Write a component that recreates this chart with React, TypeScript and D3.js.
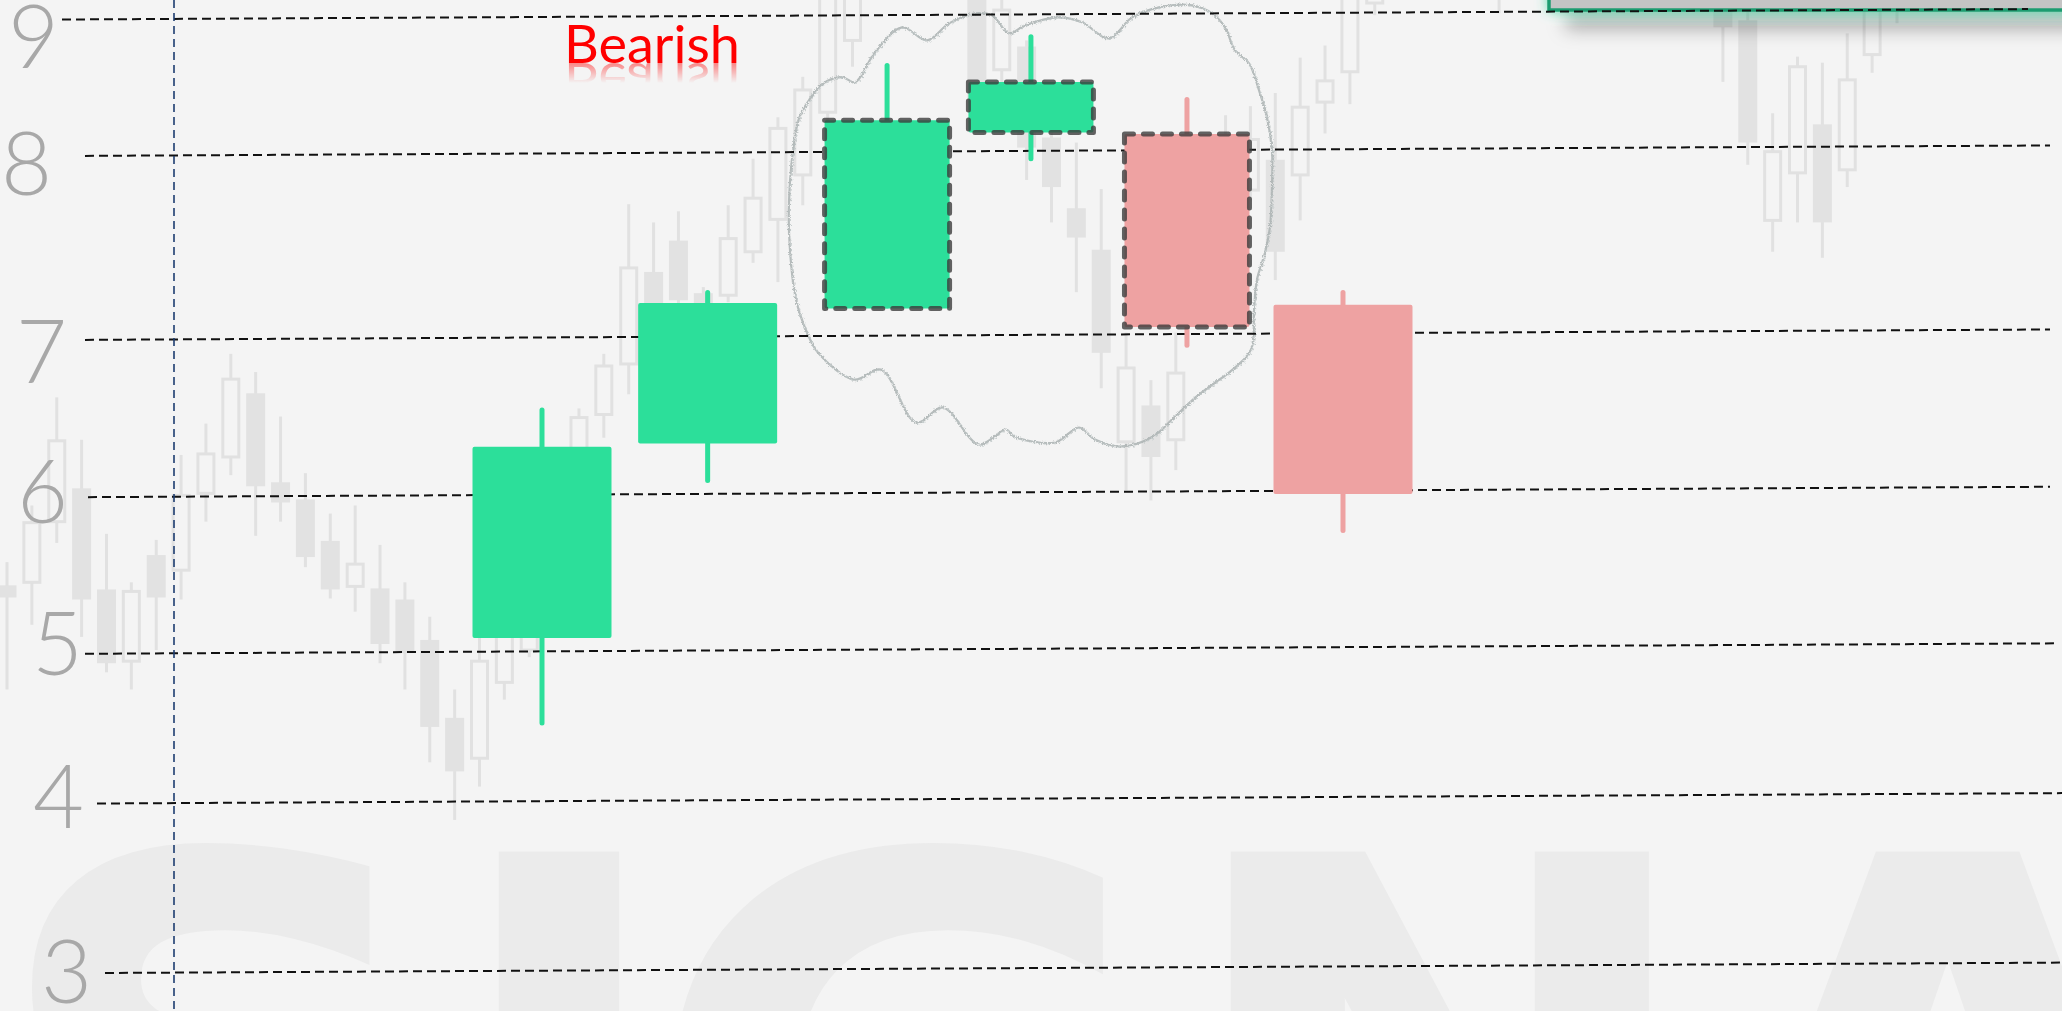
import React from 'react';
import * as d3 from 'd3';

const W = 2062;
const H = 1011;

// ---- main (foreground) candles ----
const slots = [0, 1.034, 2.154, 3.052, 4.026, 5];
const opens = [5.1, 6.34, 7.17, 8.17, 8.16, 7.19];
const closes = [6.32, 7.2, 8.26, 8.54, 7.07, 6.02];
const highs = [6.57, 7.27, 8.68, 8.89, 8.43, 7.27];
const lows = [4.52, 6.09, 7.17, 7.97, 6.95, 5.77];
const highlighted = [false, false, true, true, true, false];

// ---- price axis ----
const priceTicks = [3, 4, 5, 6, 7, 8, 9];
const tickLabels = ['3', '4', '5', '6', '7', '8', '9'];

// ---- faint background candles (index, open, close, high, low) ----
const bgIndex = [0,1,2,3,4,5,6,7,8,9,10,11,12,13,14,15,16,17,18,19,20,21,23,24,25,26,27,28,29,30,31,32,33,34,39,40,41,42,43,44,45,46,47,49,50,51,52,53,54,55,60,69,70,71,72,73,74,75,76];
const bgOpen = [42.1,42.4,48.4,51.7,41.7,34.6,45.1,43.6,51.2,54.8,61.1,52.3,50.6,46.5,42.0,41.8,40.7,36.7,29.0,25.0,32.5,35.7,54.5,59.0,64.0,73.1,76.2,71.0,70.8,75.1,78.3,82.7,88.9,96.0,102,93.1,95.4,86.4,79.4,75.3,56.3,59.9,56.5,85.2,81.2,84.2,82.7,89.9,92.9,99.7,106,100.5,98,78.2,82.9,87.7,83.2,94.6,104];
const bgClose = [40.9,48.3,56.4,40.7,34.4,41.5,40.9,51.0,55.1,62.5,51.9,50.3,44.9,41.7,44.2,36.3,35.4,28.1,23.7,34.6,38.7,40.7,58.7,63.8,73.5,67.4,70.3,68.3,76.4,80.4,87.3,91.1,100.5,103,90.1,99.0,85.4,81.5,76.5,65.1,63.6,54.8,63.1,75.3,86.2,75.1,89.4,92.0,101.5,104,101,97.3,85.9,85.0,93.4,78.0,92.1,102,100.5];
const bgHigh = [44.4,50.0,60.7,56.5,47.2,42.4,46.6,55.0,58.1,65.0,63.2,58.8,53.2,49.2,50.0,46.1,42.4,39.0,31.8,37.1,41.6,41.6,59.6,65.0,79.8,78.0,79.1,71.6,79.7,84.3,88.4,92.4,102,105,104,100.5,96.0,88.1,85.9,81.3,67.1,62.4,67.1,88.6,89.5,90.8,94.3,95.5,102.5,105,107,103,101,88.8,94.4,93.8,96.7,103,105];
const bgLow = [31.8,38.2,46.3,37.0,33.5,31.8,35.7,40.7,48.4,53.0,47.0,48.4,43.9,40.8,39.5,34.4,31.8,24.6,18.9,22.2,30.8,35.0,52.5,56.7,61.0,65.4,69.3,67.4,70.1,74.0,72.1,79.7,86.2,93.4,88.1,91.8,82.2,78.0,71.1,61.6,51.5,50.5,53.5,70.3,80.2,72.3,78.2,86.8,89.7,98.5,98.7,91.9,83.7,75.1,78.0,74.5,81.5,92.8,97.7];

// ---- styling / layout constants ----
const GREEN = '#2cdf9a';
const PINK = '#eea2a2';
const BG = '#f4f4f4';
const gridSlope = 0.0053;
const gridStart = [105, 97, 85, 88, 85, 85, 62];
const gridEnd = [2062, 2062, 2055, 2050, 2050, 2050, 2028];
const labelRight = [92, 84, 83, 68, 67, 52, 59];
const labelBaseline = [30, 24, 21, 26, 43, 39, 49];

// cloud outline template (relative to highlighted group bounds, template size 430 x 314)
const cloudTemplate: [number, number][] = [
  [-28,109],[-23,84],[-13,66],[0,50],[20,43],[33,48],[53,18],[80,-7],[105,6],[127,-11],[153,-21],[170,-19],[187,-1],[203,-9],[237,-17],[260,-12],[287,4],[310,-17],[337,-27],[370,-29],[390,-21],[403,-7],[413,16],[427,29],[437,56],[445,83],[450,116],[450,153],[448,193],[443,219],[435,246],[432,276],[429,316],[407,339],[393,349],[371,366],[353,383],[331,403],[300,413],[273,406],[257,394],[233,409],[192,403],[184,396],[157,411],[121,374],[94,389],[59,336],[32,346],[-4,319],[-15,299],[-26,266],[-33,199],[-32,146]
];

const watermark = [
  { ch: 'S', x: -14 },
  { ch: 'I', x: 440 },
  { ch: 'G', x: 642 },
  { ch: 'N', x: 1172 },
  { ch: 'A', x: 1700 },
];

export default function App() {
  const y = d3.scaleLinear().domain(priceTicks).range([973, 803.5, 653.7, 497.1, 339.8, 155.8, 19.3]);
  const x = d3.scaleLinear().domain([0, 5]).range([542, 1343]);
  const bgX = d3.scaleLinear().domain([0, 76]).range([7, 1897]);
  const bgY = d3.scaleLinear().domain([0, 100]).range([H, 0]);
  const gy = (v: number, px: number) => y(v) - gridSlope * (px - 100);

  // cloud bounds from highlighted candles
  const hiIdx = highlighted.map((h, i) => (h ? i : -1)).filter((i) => i >= 0);
  const hw = 62.5;
  const cx0 = d3.min(hiIdx, (i) => x(slots[i]) - hw - 2.5) as number;
  const cx1 = d3.max(hiIdx, (i) => x(slots[i]) + hw + 2.5) as number;
  const cy0 = y(d3.max(hiIdx, (i) => highs[i]) as number);
  const cy1 = y(d3.min(hiIdx, (i) => lows[i]) as number);
  const sx = (cx1 - cx0) / 430;
  const sy = (cy1 - cy0) / 314;
  const cloudPts = cloudTemplate.map(([dx, dy]) => [cx0 + dx * sx, cy0 + dy * sy] as [number, number]);
  const cloudPath = d3.line().curve(d3.curveCatmullRomClosed.alpha(0.5))(cloudPts) || '';

  return (
    <svg width={W} height={H} style={{ position: 'absolute', left: 0, top: 0, display: 'block' }}>
      <defs>
        <filter id="boxfx" x="-20%" y="-100%" width="140%" height="400%">
          <feGaussianBlur in="SourceAlpha" stdDeviation="9" result="b1" />
          <feOffset in="b1" dx="18" dy="18" result="o1" />
          <feFlood floodColor="#000" floodOpacity="0.28" />
          <feComposite in2="o1" operator="in" result="shadow" />
          <feGaussianBlur in="SourceAlpha" stdDeviation="6" result="b2" />
          <feFlood floodColor="#3fd9a2" floodOpacity="0.75" />
          <feComposite in2="b2" operator="in" result="glow" />
          <feMerge>
            <feMergeNode in="shadow" />
            <feMergeNode in="glow" />
            <feMergeNode in="SourceGraphic" />
          </feMerge>
        </filter>
        <filter id="sketch" x="-10%" y="-10%" width="120%" height="120%">
          <feTurbulence type="fractalNoise" baseFrequency="0.9" numOctaves="2" seed="3" result="n" />
          <feDisplacementMap in="SourceGraphic" in2="n" scale="3.5" xChannelSelector="R" yChannelSelector="G" />
        </filter>
        <linearGradient id="reflGrad" x1="0" y1="0" x2="0" y2="1">
          <stop offset="0" stopColor="#fff" stopOpacity="0.45" />
          <stop offset="1" stopColor="#fff" stopOpacity="0" />
        </linearGradient>
        <mask id="reflMask" maskUnits="userSpaceOnUse" x="0" y="0" width={W} height={H}>
          <rect x={540} y={63} width={240} height={20} fill="url(#reflGrad)" />
        </mask>
      </defs>

      <rect x={0} y={0} width={W} height={H} fill={BG} />

      {/* watermark */}
      <g fill="#ebebeb" fontFamily="'DejaVu Sans', sans-serif" fontWeight="bold" fontSize={640}>
        {watermark.map((w) => (
          <text key={w.ch} x={w.x} y={1318}>{w.ch}</text>
        ))}
      </g>

      {/* faint background candles */}
      <g>
        {bgIndex.map((k, i) => {
          const cx = bgX(k);
          const o = bgOpen[i], c = bgClose[i];
          const up = c > o;
          const top = bgY(Math.max(o, c));
          const bot = bgY(Math.min(o, c));
          return (
            <g key={k}>
              <line x1={cx} x2={cx} y1={bgY(bgHigh[i])} y2={bgY(bgLow[i])} stroke="#e1e1e1" strokeWidth={3} />
              {up ? (
                <rect x={cx - 8} y={top} width={16} height={bot - top} fill={BG} stroke="#e1e1e1" strokeWidth={3} />
              ) : (
                <rect x={cx - 9.5} y={top} width={19} height={bot - top} fill="#e2e2e2" />
              )}
            </g>
          );
        })}
      </g>

      {/* top-right framed box */}
      <rect x={1549} y={-120} width={600} height={130} fill="#c4c4c4" stroke="#1f9c70" strokeWidth={3.5} filter="url(#boxfx)" />

      {/* cloud */}
      <g filter="url(#sketch)" fill="none">
        <path d={cloudPath} stroke="#aab3b3" strokeWidth={2.2} opacity={0.85} />
        <path d={cloudPath} stroke="#c3caca" strokeWidth={1.2} strokeDasharray="2 3" transform="translate(1.5,1)" />
      </g>

      {/* grid lines */}
      <g stroke="#111" strokeWidth={2} strokeDasharray="9 5" fill="none">
        {priceTicks.map((v, i) => (
          <line key={v} x1={gridStart[i]} x2={gridEnd[i]} y1={gy(v, gridStart[i])} y2={gy(v, gridEnd[i])} />
        ))}
      </g>

      {/* vertical dashed line */}
      <line x1={174} x2={174} y1={0} y2={H} stroke="#1d3d70" strokeWidth={1.6} strokeDasharray="8 5" />

      {/* price labels */}
      <g fill="#a8a8a8" fontFamily="Lato, 'Open Sans', sans-serif" fontWeight={300} fontSize={88} textAnchor="end">
        {priceTicks.map((v, i) => (
          <text key={v} x={labelRight[i]} y={y(v) + labelBaseline[i]}>{tickLabels[i]}</text>
        ))}
      </g>

      {/* main candles */}
      <g>
        {opens.map((o, i) => {
          const cx = x(slots[i]);
          const c = closes[i];
          const up = c >= o;
          const color = up ? GREEN : PINK;
          const half = highlighted[i] ? hw : 69.5;
          const top = y(Math.max(o, c));
          const bot = y(Math.min(o, c));
          return (
            <g key={i}>
              <line x1={cx} x2={cx} y1={y(highs[i]) + 2.5} y2={y(lows[i]) - 2.5} stroke={color} strokeWidth={5} strokeLinecap="round" />
              <rect x={cx - half} y={top} width={half * 2} height={bot - top} fill={color} rx={2} />
              {highlighted[i] && (
                <rect x={cx - half} y={top} width={half * 2} height={bot - top} fill="none" stroke="#3c3c3c" strokeOpacity={0.8} strokeWidth={5} strokeDasharray="9 10" strokeLinecap="round" strokeLinejoin="round" />
              )}
            </g>
          );
        })}
      </g>

      {/* Bearish title with reflection */}
      <text x={564} y={63} fill="#ff0000" fontFamily="Lato, 'Open Sans', sans-serif" fontSize={52} textLength={176} lengthAdjust="spacingAndGlyphs">Bearish</text>
      <g mask="url(#reflMask)">
        <text x={564} y={63} fill="#ff0000" fontFamily="Lato, 'Open Sans', sans-serif" fontSize={52} textLength={176} lengthAdjust="spacingAndGlyphs" transform="translate(0,126) scale(1,-1)">Bearish</text>
      </g>
    </svg>
  );
}
